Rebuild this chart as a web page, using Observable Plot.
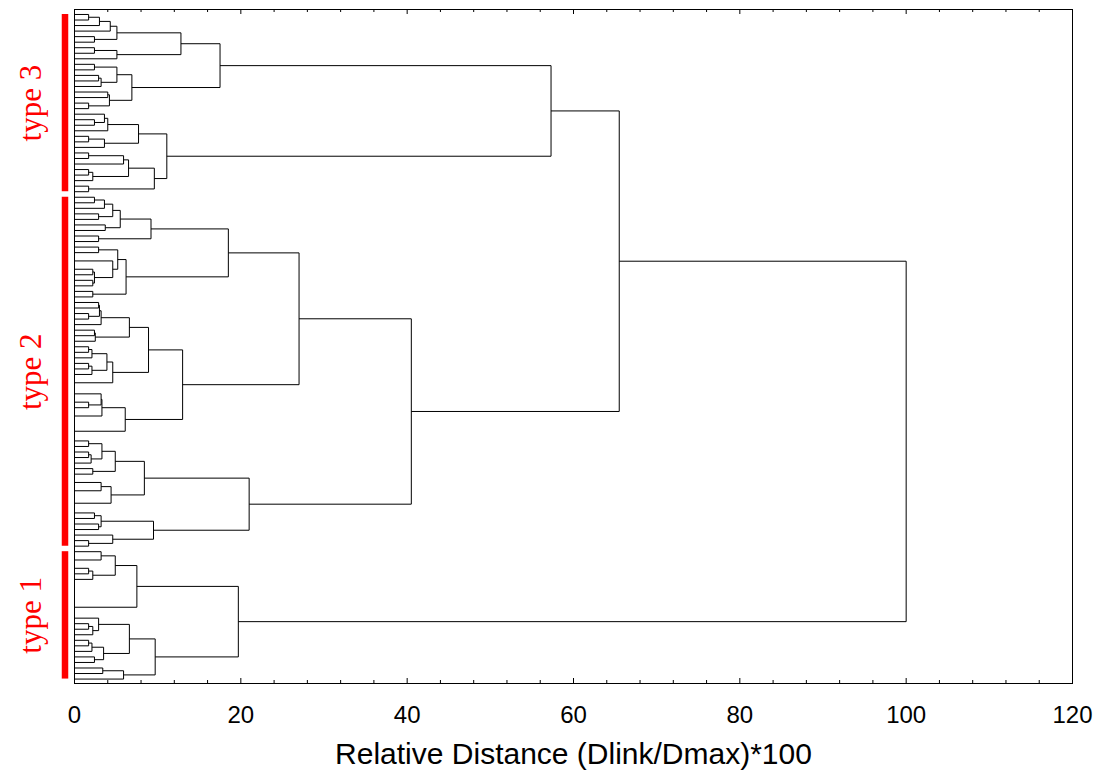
<!DOCTYPE html>
<html>
<head>
<meta charset="utf-8">
<script src="https://cdn.jsdelivr.net/npm/d3@7"></script>
<script src="https://cdn.jsdelivr.net/npm/@observablehq/plot@0.6"></script>
<style>
  html, body { margin: 0; padding: 0; background: #fff; }
</style>
</head>
<body>
<div id="chart"></div>
<script>
// ---- Data: dendrogram merges in Newick-like form: (left,right)height ; x = leaf
// Type 3 sub-clusters
const A1 = "(((((x,x)1.7,x)3.0,x)4.3,(x,x)2.4)5.1,((x,x)2.4,x)5.1)12.8";
const A2 = "(((x,x)2.4,((x,x)2.9,x)3.2)5.1,((x,x)4.0,(x,x)1.7)4.2)6.9";
const B1 = "(((x,(x,x)2.4)3.6,x)4.0,((x,x)1.7,x)3.6)7.7";
const B2 = "((((x,x)1.7,x)5.9,((x,x)1.7,x)2.2)6.5,(x,x)1.7)9.6";
// Type 2 sub-clusters
const G4 = "(((((x,x)2.4,x)3.6,(x,x)2.9)4.6,(x,x)3.7)5.5,(x,x)2.9)9.2";
const G5 = "(((x,x)2.9,((x,x)0,((x,x)2.2,(x,x)2.2)2.4)4.6)5.2,(x,x)2.2)6.2";
const G6a = "((((x,x)2.9,(x,x)1.7)3.0,x)3.2,((x,x)2.4,x)2.5)6.6";
const G6b = "((((x,x)1.7,x)2.1,((x,x)1.7,x)2.1)3.9,(x,x)0)4.6";
const G7 = "((((x,x)0,(x,x)1.7)3.2,(x,x)0)3.3,((x,x)0,x)0)6.1";
const U1 = "(((x,x)1.7,((x,x)1.7,x)2.0)3.3,(x,x)2.2)4.9";
const U2 = "(((x,x)0,x)3.2,((x,x)0,x)0)4.4";
const G9 = "(((x,x)2.4,(x,x)2.9)3.2,(x,(x,x)1.7)4.6)9.5";
// Type 1 sub-clusters
const T1a = "(((x,(x,x)0)3.2,((x,x)1.7,x)2.2)4.9,(((((x,x)0,x)0,x)0,x)0,x)0)7.5";
const T1b1 = "((x,((x,x)1.7,x)2.2)2.9,(((x,x)1.7,x)2.1,(x,x)2.4)3.5)6.6";

const typeNames = ["type 3", "type 2", "type 1"];
const typeTrees = [
  `((${A1},${A2})17.5,(${B1},${B2})11.1)57.3`,
  `(((${G4},${G5})18.5,((${G6a},${G6b})8.9,${G7})13.0)27.0,((${U1},${U2})8.4,${G9})21.0)40.5`,
  `(${T1a},(${T1b1},((x,x)3.4,x)5.9)9.7)19.7`
];
const topHeights = [65.5, 100]; // (type3,type2) merge, then with type1
const majorTicks = [0, 20, 40, 60, 80, 100, 120];
const minorTicks = [4, 8, 12, 16, 24, 28, 32, 36, 44, 48, 52, 56, 64, 68, 72, 76, 84, 88, 92, 96, 104, 108, 112, 116];
const xLabel = "Relative Distance (Dlink/Dmax)*100";

// ---- Parse
function parse(s) {
  let i = 0;
  function node() {
    if (s[i] === "(") {
      i++;
      const a = node();
      i++; // ,
      const b = node();
      i++; // )
      const j = i;
      while (i < s.length && /[0-9.]/.test(s[i])) i++;
      return {h: +s.slice(j, i), children: [a, b]};
    }
    i++;
    return {h: 0};
  }
  return node();
}
const types = typeTrees.map(parse);
const root = {h: topHeights[1], children: [{h: topHeights[0], children: [types[0], types[1]]}, types[2]]};

// ---- Layout (leaf order -> y index)
let leafIndex = 0;
const links = [];
function layout(n) {
  if (!n.children) { n.y = leafIndex++; n.lo = n.y; n.hi = n.y; return; }
  n.children.forEach(layout);
  const [a, b] = n.children;
  n.y = (a.y + b.y) / 2;
  n.lo = Math.min(a.lo, b.lo); n.hi = Math.max(a.hi, b.hi);
  links.push({x1: n.h, y1: a.y, x2: n.h, y2: b.y});
  for (const c of n.children) links.push({x1: c.h, y1: c.y, x2: n.h, y2: c.y});
}
layout(root);
const nLeaves = leafIndex;
const groups = types.map((t, k) => ({name: typeNames[k], y1: t.lo, y2: t.hi, ym: (t.lo + t.hi) / 2}));

const W = 1097, H = 775, mT = 9, mB = 92;
const frameH = H - mT - mB;

const chart = Plot.plot({
  width: W, height: H,
  marginLeft: 74, marginRight: 25, marginTop: mT, marginBottom: mB,
  x: {domain: [0, 120]},
  y: {domain: [-0.9, nLeaves - 0.2], reverse: true, axis: null},
  style: {fontFamily: "'Liberation Sans', Arial, sans-serif", background: "white", color: "black"},
  marks: [
    Plot.link(links, {x1: "x1", y1: "y1", x2: "x2", y2: "y2", stroke: "black", strokeWidth: 1}),
    Plot.frame({stroke: "black", strokeWidth: 1}),
    Plot.tickX(majorTicks, {x: d => d, insetTop: frameH - 5, stroke: "black"}),
    Plot.tickX(minorTicks, {x: d => d, insetTop: frameH - 3, stroke: "black"}),
    Plot.tickX(majorTicks, {x: d => d, insetBottom: frameH - 5, stroke: "black"}),
    Plot.tickX(minorTicks, {x: d => d, insetBottom: frameH - 3, stroke: "black"}),
    Plot.axisX(majorTicks, {tickSize: 0, tickPadding: 22, fontSize: 24, label: null, fill: "black"}),
    Plot.text([xLabel], {frameAnchor: "bottom", dy: 80, fontSize: 30, fill: "black", text: d => d}),
    Plot.ruleX(groups, {x: 0, dx: -9.5, y1: "y1", y2: "y2", stroke: "#ff0000", strokeWidth: 6.5}),
    Plot.text(groups, {x: 0, y: "ym", dx: -43, text: "name", rotate: -90, fill: "#ff0000", fontSize: 31,
      fontFamily: "'Liberation Serif', 'Times New Roman', serif"})
  ]
});
document.getElementById("chart").appendChild(chart);
</script>
</body>
</html>
